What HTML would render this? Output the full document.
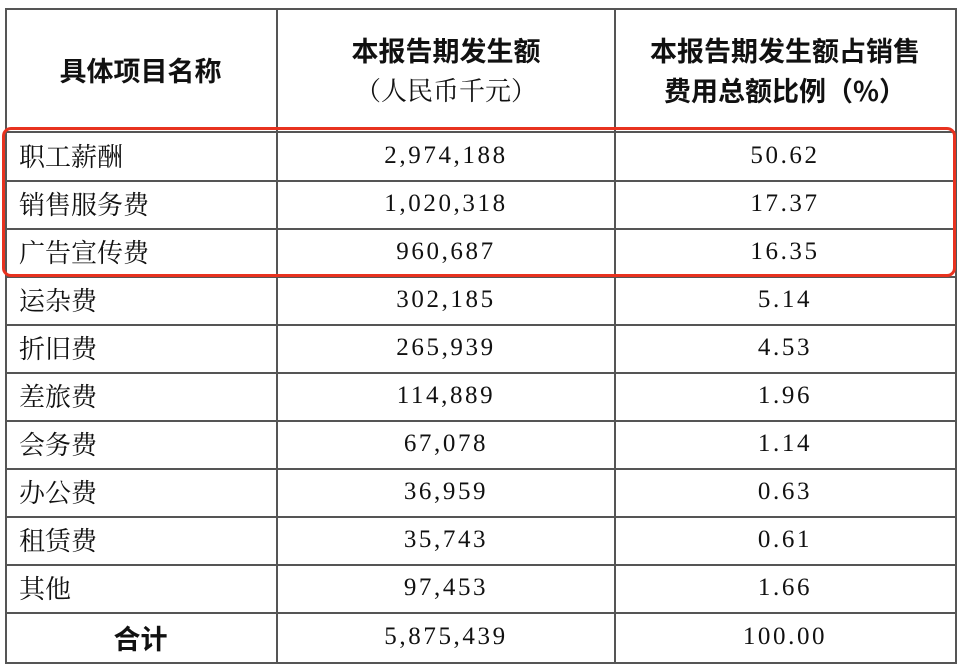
<!DOCTYPE html>
<html><head><meta charset="utf-8">
<style>
html,body{margin:0;padding:0;background:#fff;}
body{width:960px;height:670px;position:relative;overflow:hidden;font-family:"Liberation Serif","Noto Serif CJK SC",serif;color:#111;}
.h{position:absolute;left:0;background:#555;height:2px;}
.v{position:absolute;top:8px;width:2px;height:656px;background:#555;}
.t{position:absolute;font-size:25px;line-height:48px;white-space:nowrap;}
.l{left:19px;font-family:"Noto Serif CJK SC",serif;font-size:26px;}
.c2{left:277px;width:338px;text-align:center;}
.c3{left:615px;width:340px;text-align:center;}
.n{letter-spacing:2.6px;font-size:25px;}
.hd{font-family:"Noto Sans CJK SC",sans-serif;font-weight:bold;font-size:27px;line-height:40px;}
.red{position:absolute;left:2px;top:127px;width:948px;height:144px;border:3px solid #e8321f;border-radius:9px;}
</style></head><body>
<div class="h" style="top:8px;left:5px;width:952px"></div>
<div class="h" style="top:131px;left:5px;width:952px"></div>
<div class="h" style="top:180px;left:5px;width:952px"></div>
<div class="h" style="top:228px;left:5px;width:952px"></div>
<div class="h" style="top:276px;left:5px;width:952px"></div>
<div class="h" style="top:324px;left:5px;width:952px"></div>
<div class="h" style="top:372px;left:5px;width:952px"></div>
<div class="h" style="top:420px;left:5px;width:952px"></div>
<div class="h" style="top:468px;left:5px;width:952px"></div>
<div class="h" style="top:516px;left:5px;width:952px"></div>
<div class="h" style="top:564px;left:5px;width:952px"></div>
<div class="h" style="top:612px;left:5px;width:952px"></div>
<div class="h" style="top:662px;left:5px;width:952px"></div>
<div class="v" style="left:5px"></div>
<div class="v" style="left:276px"></div>
<div class="v" style="left:614px"></div>
<div class="v" style="left:955px"></div>

<div class="t hd" style="left:5px;width:271px;text-align:center;top:50px">具体项目名称</div>
<div class="t hd c2" style="top:30px">本报告期发生额</div>
<div class="t c2" style="top:70px;font-family:'Noto Serif CJK SC',serif;font-size:26px;line-height:40px">（人民币千元）</div>
<div class="t hd c3" style="top:30px">本报告期发生额占销售</div>
<div class="t hd c3" style="top:70px">费用总额比例（%）</div>

<div class="t l" style="top:132px">职工薪酬</div><div class="t c2 n" style="top:132px">2,974,188</div><div class="t c3 n" style="top:132px">50.62</div>
<div class="t l" style="top:180px">销售服务费</div><div class="t c2 n" style="top:180px">1,020,318</div><div class="t c3 n" style="top:180px">17.37</div>
<div class="t l" style="top:228px">广告宣传费</div><div class="t c2 n" style="top:228px">960,687</div><div class="t c3 n" style="top:228px">16.35</div>
<div class="t l" style="top:276px">运杂费</div><div class="t c2 n" style="top:276px">302,185</div><div class="t c3 n" style="top:276px">5.14</div>
<div class="t l" style="top:324px">折旧费</div><div class="t c2 n" style="top:324px">265,939</div><div class="t c3 n" style="top:324px">4.53</div>
<div class="t l" style="top:372px">差旅费</div><div class="t c2 n" style="top:372px">114,889</div><div class="t c3 n" style="top:372px">1.96</div>
<div class="t l" style="top:420px">会务费</div><div class="t c2 n" style="top:420px">67,078</div><div class="t c3 n" style="top:420px">1.14</div>
<div class="t l" style="top:468px">办公费</div><div class="t c2 n" style="top:468px">36,959</div><div class="t c3 n" style="top:468px">0.63</div>
<div class="t l" style="top:516px">租赁费</div><div class="t c2 n" style="top:516px">35,743</div><div class="t c3 n" style="top:516px">0.61</div>
<div class="t l" style="top:564px">其他</div><div class="t c2 n" style="top:564px">97,453</div><div class="t c3 n" style="top:564px">1.66</div>
<div class="t hd" style="left:5px;width:271px;text-align:center;top:614px;line-height:48px">合计</div><div class="t c2 n" style="top:613px">5,875,439</div><div class="t c3 n" style="top:613px">100.00</div>

<div class="red"></div>
</body></html>
